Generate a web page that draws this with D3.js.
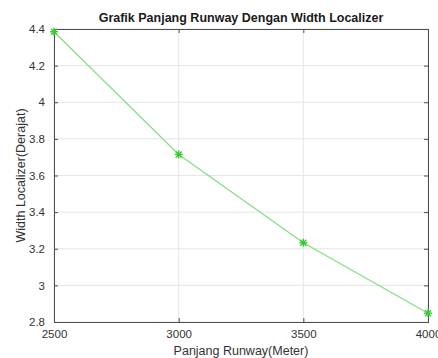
<!DOCTYPE html>
<html><head><meta charset="utf-8">
<script src="https://cdn.jsdelivr.net/npm/d3@7"></script>
<style>body{margin:0;background:#fff}svg{display:block}</style>
</head><body>
<script>
const runwayLengths = [2500, 3000, 3500, 4000];
const localizerWidths = [4.385, 3.715, 3.233, 2.848];
const xTicks = [2500, 3000, 3500, 4000];
const yTicks = [2.8, 3, 3.2, 3.4, 3.6, 3.8, 4, 4.2, 4.4];
const titleText = "Grafik Panjang Runway Dengan Width Localizer";
const xLabelText = "Panjang Runway(Meter)";
const yLabelText = "Width Localizer(Derajat)";

const W = 438, H = 358;
const m = {l: 54, r: 10, t: 29, b: 36};
const svg = d3.select("body").append("svg").attr("width", W).attr("height", H)
  .style("font-family", "'Liberation Sans', Arial, sans-serif");
const x = d3.scaleLinear().domain([2500, 4000]).range([m.l, W - m.r]);
const y = d3.scaleLinear().domain([2.8, 4.4]).range([H - m.b, m.t]);
const axisCol = "#4d4d4d";

// grid
svg.append("g").selectAll("line").data(xTicks).join("line")
  .attr("x1", d => x(d)).attr("x2", d => x(d)).attr("y1", y(2.8)).attr("y2", y(4.4))
  .attr("stroke", "#e6e6e6").attr("stroke-width", 1);
svg.append("g").selectAll("line").data(yTicks).join("line")
  .attr("x1", x(2500)).attr("x2", x(4000)).attr("y1", d => y(d)).attr("y2", d => y(d))
  .attr("stroke", "#e6e6e6").attr("stroke-width", 1);

// axes
const fmtY = d => d3.format("")(+d.toFixed(1));
const xb = svg.append("g").attr("transform", `translate(0,${y(2.8)})`)
  .call(d3.axisBottom(x).tickValues(xTicks).tickSize(-4).tickPadding(8).tickFormat(d3.format("d")));
const xt = svg.append("g").attr("transform", `translate(0,${y(4.4)})`)
  .call(d3.axisTop(x).tickValues(xTicks).tickSize(-4).tickFormat(""));
const yl = svg.append("g").attr("transform", `translate(${x(2500)},0)`)
  .call(d3.axisLeft(y).tickValues(yTicks).tickSize(-4).tickPadding(9).tickFormat(fmtY));
const yr = svg.append("g").attr("transform", `translate(${x(4000)},0)`)
  .call(d3.axisRight(y).tickValues(yTicks).tickSize(-4).tickFormat(""));
[xb, xt, yl, yr].forEach(g => {
  g.select(".domain").attr("stroke", axisCol).attr("stroke-width", 1);
  g.selectAll(".tick line").attr("stroke", axisCol);
  g.selectAll("text").attr("fill", "#333").style("font-size", "11.5px")
    .style("font-family", "'Liberation Sans', Arial, sans-serif");
});
xb.selectAll("text").attr("dy", "0.71em");

// line
svg.append("path").datum(runwayLengths.map((r, i) => [r, localizerWidths[i]]))
  .attr("fill", "none").attr("stroke", "#7fe07f").attr("stroke-width", 1.2)
  .attr("d", d3.line().x(d => x(d[0])).y(d => y(d[1])));

// star markers
const star = d3.symbol().type(d3.symbolAsterisk || d3.symbolCross).size(40);
const mk = svg.append("g").selectAll("g").data(runwayLengths).join("g")
  .attr("transform", (d, i) => `translate(${x(d)},${y(localizerWidths[i])})`);
mk.each(function() {
  const g = d3.select(this);
  [[-4,0,4,0],[0,-4,0,4],[-3,-3,3,3],[-3,3,3,-3]].forEach(s =>
    g.append("line").attr("x1", s[0]).attr("y1", s[1]).attr("x2", s[2]).attr("y2", s[3])
      .attr("stroke", "#33cc33").attr("stroke-width", 1.4));
});

// text
svg.append("text").attr("x", (x(2500) + x(4000)) / 2).attr("y", 19).attr("text-anchor", "middle")
  .attr("dominant-baseline", "middle").style("font-size", "12.5px").style("font-weight", "bold")
  .attr("fill", "#1a1a1a").text(titleText);
svg.append("text").attr("x", (x(2500) + x(4000)) / 2).attr("y", 352).attr("text-anchor", "middle")
  .attr("dominant-baseline", "middle").style("font-size", "12.5px").attr("fill", "#333").text(xLabelText);
svg.append("text").attr("transform", `translate(22,${(y(2.8) + y(4.4)) / 2}) rotate(-90)`)
  .attr("text-anchor", "middle").attr("dominant-baseline", "middle")
  .style("font-size", "12.5px").attr("fill", "#333").text(yLabelText);
</script>
</body></html>
